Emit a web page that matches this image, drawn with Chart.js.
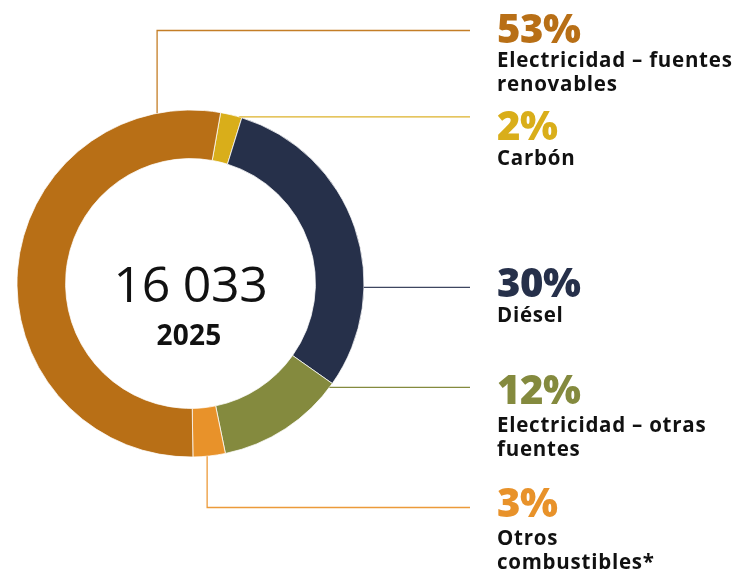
<!DOCTYPE html>
<html lang="es">
<head>
<meta charset="utf-8">
<script src="https://cdn.jsdelivr.net/npm/chart.js@4.4.1/dist/chart.umd.min.js"></script>
<style>
  html, body { margin: 0; padding: 0; background: #ffffff; }
  #wrap { position: relative; width: 735px; height: 574px; overflow: hidden; font-family: "Open Sans", "Noto Sans", sans-serif; }
  #wrap canvas { position: absolute; left: 0; top: 0; }
  .pct { position: absolute; left: 497px; font-weight: 800; font-size: 40px; line-height: 40px; white-space: nowrap; letter-spacing: -0.5px; }
  .lbl { position: absolute; left: 497px; font-weight: 700; font-size: 20.5px; line-height: 24px; color: #111111; white-space: nowrap; letter-spacing: 0.75px; }
  .center1 { position: absolute; left: 40px; width: 301px; text-align: center; font-weight: 400; font-size: 50px; line-height: 50px; color: #111111; letter-spacing: -0.3px; }
  .center2 { position: absolute; left: 40px; width: 298px; text-align: center; font-weight: 700; font-size: 28px; line-height: 28px; color: #111111; letter-spacing: 0.3px; }
</style>
</head>
<body>
<div id="wrap">
  <canvas id="c" width="735" height="574"></canvas>
  <div class="center1" id="totalTxt" style="top:258px"></div>
  <div class="center2" id="yearTxt" style="top:320px"></div>
  <div id="labels"></div>
</div>
<script>
// ---- data ----
const categories = ["Carbón", "Diésel", "Electricidad – otras fuentes", "Otros combustibles*", "Electricidad – fuentes renovables"];
const labelLines = [["Carbón"], ["Diésel"], ["Electricidad – otras", "fuentes"], ["Otros", "combustibles*"], ["Electricidad – fuentes", "renovables"]];
const percentages = [2, 30, 12, 3, 53];
const totalValue = "16 033";
const yearLabel = "2025";

// ---- styles ----
const colors = ["#D9AE1A", "#26304A", "#848A3E", "#E8922A", "#B86F16"];
const lineColors = ["#DDB22A", "#3E4660", "#848A3E", "#EC9A3A", "#C47E26"];
// label placement (top of percentage / top of text block) per category
const labelTops = [[104.5, 145], [261.5, 301.5], [368.5, 412], [481.5, 525], [7.5, 47]];
// leader lines: angle on ring (deg clockwise from top), type, elbow y
const leaders = [
  { angle: 16.3, type: "straight" },
  { angle: 91.3, type: "straight" },
  { angle: 126.8, type: "straight" },
  { angle: 174.5, type: "elbow", y: 507.5 },
  { angle: -11.1, type: "elbow", y: 30.5 }
];
const leaderEndX = 470;

document.getElementById("totalTxt").textContent = totalValue;
document.getElementById("yearTxt").textContent = yearLabel;
const labelsDiv = document.getElementById("labels");
categories.forEach((c, i) => {
  const p = document.createElement("div");
  p.className = "pct";
  p.style.top = labelTops[i][0] + "px";
  p.style.color = colors[i];
  p.textContent = percentages[i] + "%";
  labelsDiv.appendChild(p);
  const l = document.createElement("div");
  l.className = "lbl";
  l.style.top = labelTops[i][1] + "px";
  l.innerHTML = labelLines[i].join("<br>");
  labelsDiv.appendChild(l);
});

const leaderPlugin = {
  id: "leaders",
  afterDatasetsDraw(chart) {
    const meta = chart.getDatasetMeta(0);
    const arc = meta.data[0];
    const cx = arc.x, cy = arc.y, R = arc.outerRadius;
    const ctx = chart.ctx;
    ctx.save();
    ctx.lineWidth = 1.3;
    leaders.forEach((ld, i) => {
      const a = ld.angle * Math.PI / 180;
      const px = cx + R * Math.sin(a);
      const py = cy - R * Math.cos(a);
      ctx.strokeStyle = lineColors[i];
      ctx.beginPath();
      if (ld.type === "elbow") {
        ctx.moveTo(px, py);
        ctx.lineTo(px, ld.y);
        ctx.lineTo(leaderEndX, ld.y);
      } else {
        ctx.moveTo(px, py);
        ctx.lineTo(leaderEndX, py);
      }
      ctx.stroke();
    });
    ctx.restore();
  }
};

new Chart(document.getElementById("c"), {
  type: "doughnut",
  data: {
    labels: categories,
    datasets: [{
      data: percentages,
      backgroundColor: colors,
      borderColor: "rgba(255,255,255,0.75)",
      borderWidth: 1,
      hoverOffset: 0
    }]
  },
  options: {
    responsive: false,
    animation: false,
    events: [],
    rotation: 10,
    cutout: "72%",
    layout: { padding: { left: 16.5, right: 370.5, top: 109.5, bottom: 116.5 } },
    plugins: { legend: { display: false }, tooltip: { enabled: false }, title: { display: false } }
  },
  plugins: [leaderPlugin]
});
</script>
</body>
</html>
